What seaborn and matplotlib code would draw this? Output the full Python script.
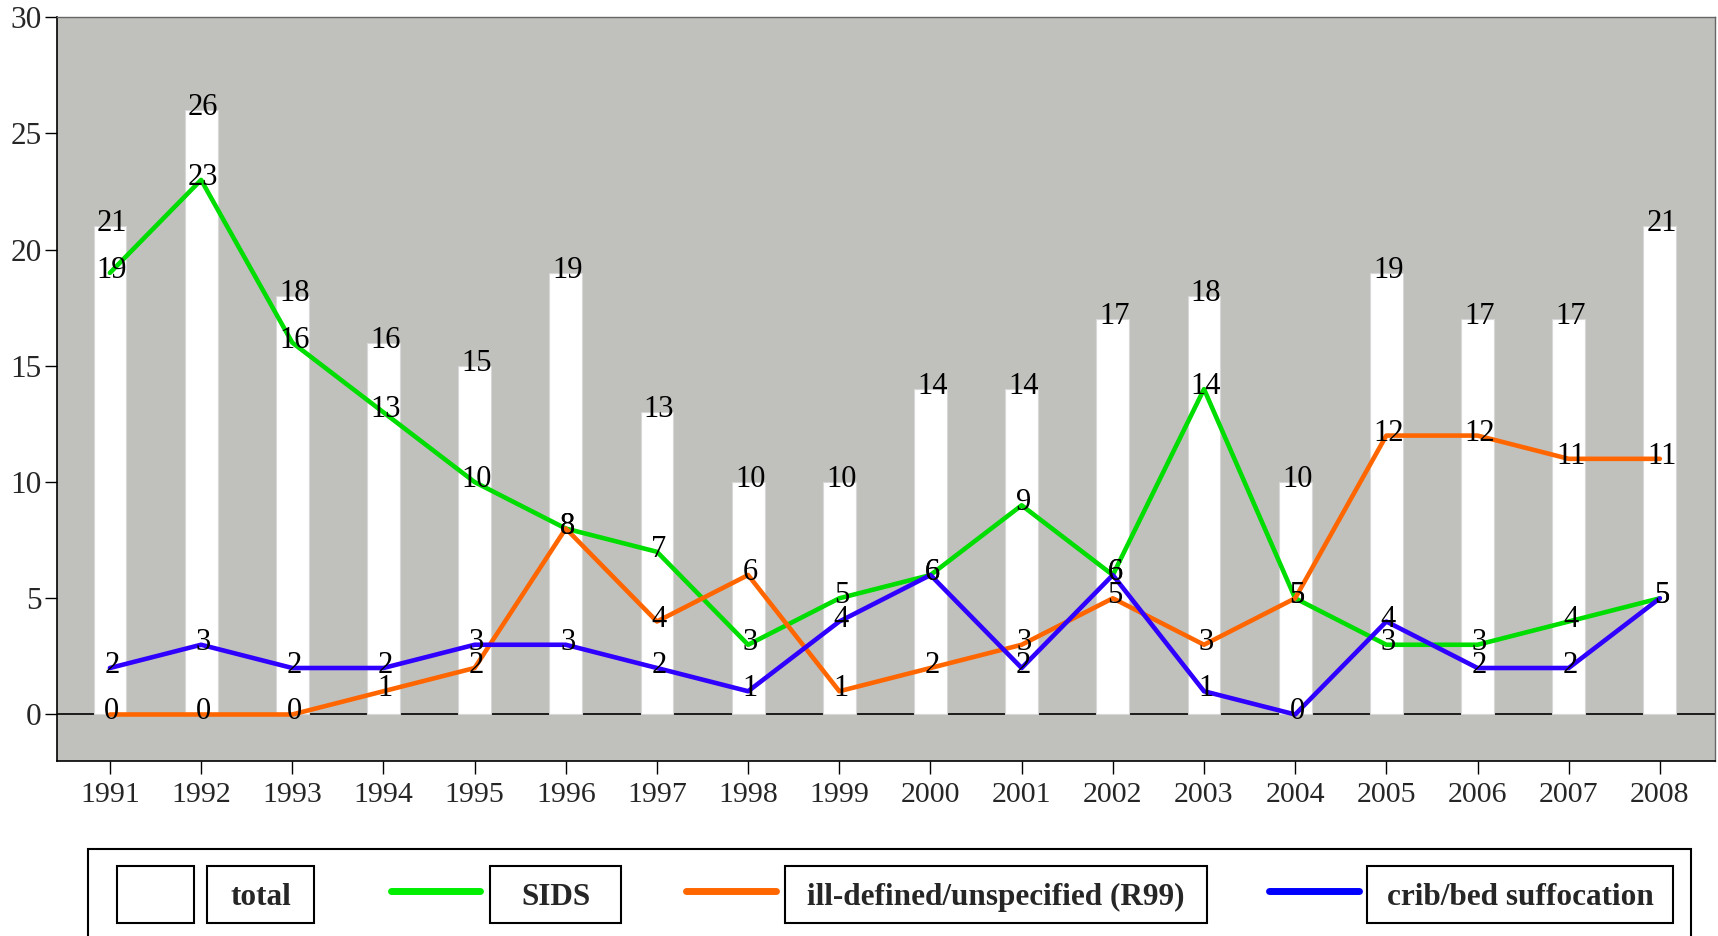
import numpy as np
import pandas as pd
import matplotlib
matplotlib.use("Agg")
import matplotlib.pyplot as plt
from matplotlib.patches import Rectangle
from matplotlib.lines import Line2D
import seaborn as sns

# data
years = [str(y) for y in range(1991, 2009)]
total = [21, 26, 18, 16, 15, 19, 13, 10, 10, 14, 14, 17, 18, 10, 19, 17, 17, 21]
sids = [19, 23, 16, 13, 10, 8, 7, 3, 5, 6, 9, 6, 14, 5, 3, 3, 4, 5]
r99 = [0, 0, 0, 1, 2, 8, 4, 6, 1, 2, 3, 5, 3, 5, 12, 12, 11, 11]
crib = [2, 3, 2, 2, 3, 3, 2, 1, 4, 6, 2, 6, 1, 0, 4, 2, 2, 5]

series = [
    ("SIDS", sids, "#00dd00", "#00ee00"),
    ("ill-defined/unspecified (R99)", r99, "#ff6600", "#ff6600"),
    ("crib/bed suffocation", crib, "#2f00ff", "#0000ff"),
]

sns.set_style("white")
plt.rcParams["font.family"] = ["Liberation Serif", "DejaVu Serif"]

fig = plt.figure(figsize=(17.18, 9.36), dpi=100)
ax = fig.add_axes([0.0332, 0.187, 0.9648, 0.7946])
ax.set_facecolor("#c0c1bd")

ax.axhline(0, color="black", lw=1.2, zorder=0.5)

sns.barplot(x=years, y=total, color="white", saturation=1, width=0.36,
            edgecolor="#d8d8d8", linewidth=0.8, ax=ax, zorder=1)

for name, vals, col, _ in series:
    sns.lineplot(x=years, y=vals, color=col, lw=3.3, sort=False, ax=ax, zorder=2)

def label(i, v):
    ax.annotate(str(v), (i, v), xytext=(2, -5), textcoords="offset pixels",
                ha="center", va="baseline", fontsize=22, color="black", zorder=4)

for i, v in enumerate(total):
    label(i, v)
for name, vals, col, _ in series:
    for i, v in enumerate(vals):
        label(i, v)

ax.set_xlim(-0.58, 17.6)
ax.set_ylim(-2.0, 30)
ax.set_yticks(range(0, 31, 5))
ax.set_xlabel("")
ax.set_ylabel("")
ax.tick_params(axis="both", which="both", direction="out", length=9, width=1,
               color="black", left=True, bottom=True)
ax.tick_params(axis="x", pad=6, labelsize=21.5)
ax.tick_params(axis="y", pad=2, labelsize=22.5)
for s in ["left", "bottom"]:
    ax.spines[s].set_color("black")
    ax.spines[s].set_linewidth(1.2)
for s in ["top", "right"]:
    ax.spines[s].set_color("#666666")
    ax.spines[s].set_linewidth(1.0)

# legend built as a row of boxes below the axes
fig.add_artist(Rectangle((0.0512, -0.05), 0.933, 0.1429, transform=fig.transFigure,
                         fill=False, ec="black", lw=1.5))
box_y, box_h = 0.0139, 0.0609
mid_y = box_y + box_h / 2
fig.add_artist(Rectangle((0.0681, box_y), 0.0448, box_h, transform=fig.transFigure,
                         fc="white", ec="black", lw=1.5))

text_boxes = [("total", 0.1205, 0.0623),
              ("SIDS", 0.2852, 0.0763),
              ("ill-defined/unspecified (R99)", 0.4569, 0.2456),
              ("crib/bed suffocation", 0.7957, 0.1781)]
handle_x = [(0.2276, 0.2794), (0.3993, 0.4517), (0.7386, 0.7910)]

for txt, x0, w in text_boxes:
    fig.add_artist(Rectangle((x0, box_y), w, box_h, transform=fig.transFigure,
                             fc="white", ec="black", lw=1.5))
    fig.text(x0 + w / 2, mid_y - 0.003, txt, ha="center", va="center",
             fontsize=22.5, fontweight="bold")

for (x0, x1), (_, _, _, lcol) in zip(handle_x, series):
    fig.add_artist(Line2D([x0, x1], [0.0481, 0.0481], transform=fig.transFigure,
                          color=lcol, lw=5))

fig.savefig("out.png", dpi=100, facecolor="white")
